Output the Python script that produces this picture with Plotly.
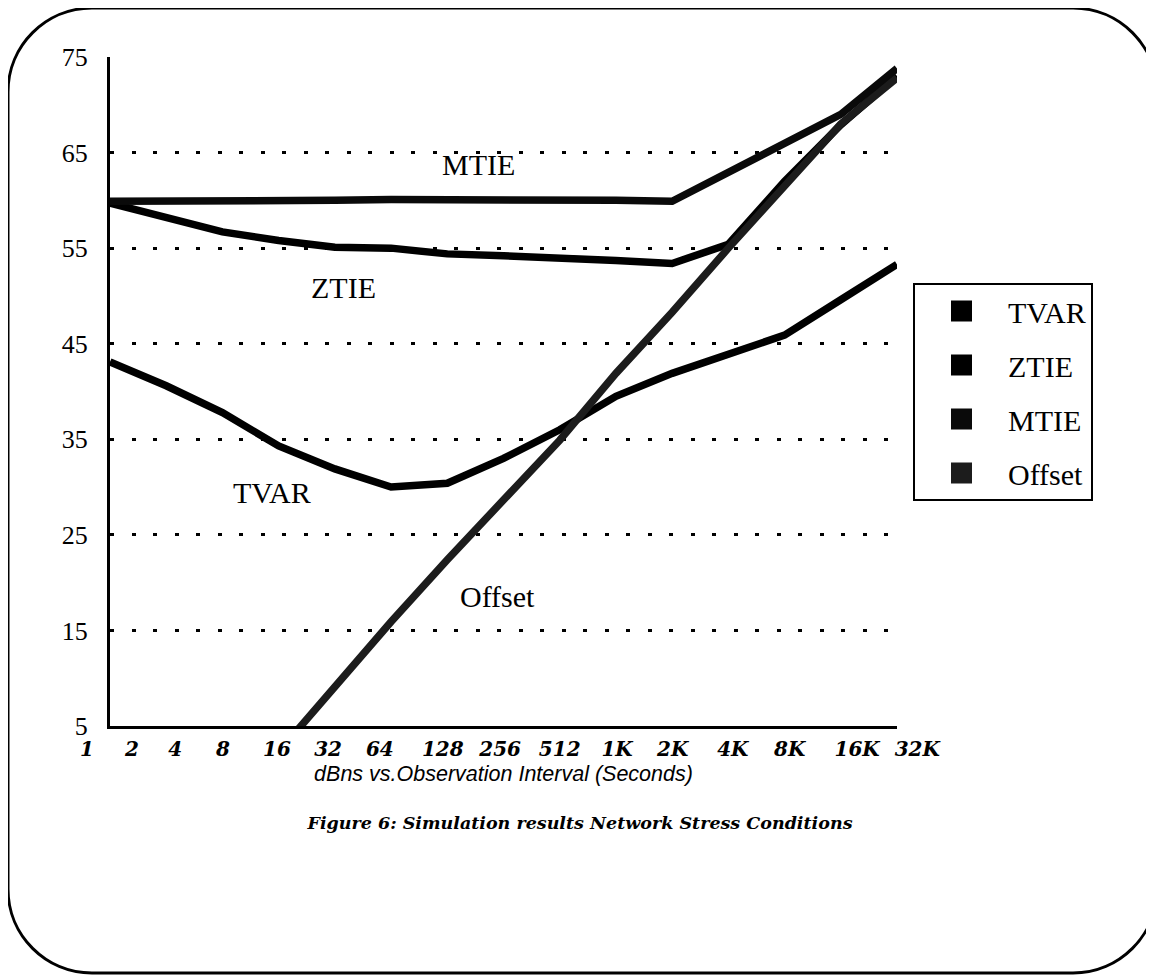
import plotly.graph_objects as go

# ---------------- data ----------------
point_index = list(range(15))          # observation-interval steps along the x axis

tvar   = [43.1, 40.6, 37.8, 34.3, 31.9, 30.0, 30.4, 33.0, 36.0, 39.5, 41.9, 44.0, 45.9, 49.6, 53.3]
ztie   = [59.7, 58.2, 56.7, 55.8, 55.1, 55.0, 54.4, 54.2, 54.0, 53.7, 53.4, 55.4, 62.0, 67.9, 73.0]
mtie   = [59.9, 59.9, 60.0, 60.0, 60.0, 60.1, 60.1, 60.0, 60.0, 60.0, 59.9, 62.9, 65.9, 69.0, 73.8]
offset_idx = point_index[3:]
offset = [2.3, 9.2, 15.9, 22.4, 28.7, 34.9, 41.9, 48.3, 55.0, 61.6, 68.0, 72.8]

tick_labels = ["1", "2", "4", "8", "16", "32", "64", "128", "256", "512",
               "1K", "2K", "4K", "8K", "16K", "32K"]
tick_pos = [-0.41, 0.39, 1.16, 2.01, 2.97, 3.88, 4.80, 5.92, 6.94, 8.00,
            9.02, 10.01, 11.08, 12.09, 13.29, 14.36]

y_ticks = [5, 15, 25, 35, 45, 55, 65, 75]

series_names = ["TVAR", "ZTIE", "MTIE", "Offset"]
series_colors = ["#000000", "#000000", "#0a0a0a", "#1c1c1c"]

curve_labels = ["MTIE", "ZTIE", "TVAR", "Offset"]
curve_label_x = [6.56, 4.16, 2.88, 6.90]
curve_label_y = [63.7, 50.9, 29.4, 18.6]

# ---------------- layout helpers ----------------
OFF = 8                      # page body margin of the html page
W, H = 1154 - OFF, 975 - OFF
def PX(p):
    return (p - OFF) / W
def PY(p):
    return 1 - (p - OFF) / H

plot_l, plot_r, plot_t, plot_b = 110, 897, 57, 726
unit = (plot_r - plot_l) / 14.0

fig = go.Figure()

line_w = 7.5
fig.add_trace(go.Scatter(x=point_index, y=tvar, mode="lines", showlegend=False,
                         line=dict(color=series_colors[0], width=line_w)))
fig.add_trace(go.Scatter(x=point_index, y=ztie, mode="lines", showlegend=False,
                         line=dict(color=series_colors[1], width=line_w)))
fig.add_trace(go.Scatter(x=point_index, y=mtie, mode="lines", showlegend=False,
                         line=dict(color=series_colors[2], width=line_w)))
fig.add_trace(go.Scatter(x=offset_idx, y=offset, mode="lines", showlegend=False,
                         line=dict(color=series_colors[3], width=line_w)))

# legend entries (square swatches)
for name, col in zip(series_names, series_colors):
    fig.add_trace(go.Scatter(x=[None], y=[None], mode="markers", name=name,
                             legendgroup=name,
                             marker=dict(symbol="square", size=16, color=col,
                                         line=dict(color=col, width=5))))

# helper trace for the tick-label row axis
fig.add_trace(go.Scatter(x=[None], y=[None], xaxis="x2", yaxis="y2",
                         showlegend=False, hoverinfo="skip"))

for txt, xx, yy in zip(curve_labels, curve_label_x, curve_label_y):
    fig.add_annotation(x=xx, y=yy, xref="x", yref="y", text=txt, showarrow=False,
                       font=dict(family="Liberation Serif", size=30, color="black"))

# rounded outer frame
L, T, R, B, r = 8, 8, 1157, 973, 84
k = 0.5523 * r
def pt(x, y):
    return f"{PX(x):.5f},{PY(y):.5f}"
path = (f"M{pt(L + r, T)} L{pt(R - r, T)} "
        f"C{pt(R - r + k, T)} {pt(R, T + r - k)} {pt(R, T + r)} "
        f"L{pt(R, B - r)} "
        f"C{pt(R, B - r + k)} {pt(R - r + k, B)} {pt(R - r, B)} "
        f"L{pt(L + r, B)} "
        f"C{pt(L + r - k, B)} {pt(L, B - r + k)} {pt(L, B - r)} "
        f"L{pt(L, T + r)} "
        f"C{pt(L, T + r - k)} {pt(L + r - k, T)} {pt(L + r, T)} Z")
fig.add_shape(type="path", path=path, xref="paper", yref="paper",
              line=dict(color="black", width=3), layer="below")

ydom = [PY(plot_b), PY(plot_t)]

fig.update_layout(
    template="none",
    width=W, height=H,
    margin=dict(l=0, r=0, t=0, b=0, pad=0, autoexpand=False),
    paper_bgcolor="white", plot_bgcolor="rgba(0,0,0,0)",
    showlegend=True,
    title=dict(text="Figure 6: Simulation results Network Stress Conditions",
               x=PX(580), y=PY(823), xref="paper", yref="paper",
               xanchor="center", yanchor="middle",
               font=dict(family="DejaVu Serif", size=17.5, color="black",
                         style="italic", weight="bold")),
    xaxis=dict(domain=[PX(plot_l), PX(plot_r)], range=[0, 14], automargin=False,
               showgrid=False, zeroline=False, showline=True, linecolor="black",
               linewidth=3, ticks="", showticklabels=False,
               title=dict(text="dBns vs.Observation Interval (Seconds)", standoff=38,
                          font=dict(family="Liberation Sans", size=21.5, color="black",
                                    style="italic"))),
    yaxis=dict(domain=ydom, range=[5, 75], tickvals=y_ticks, automargin=False,
               showgrid=True, gridcolor="black", gridwidth=3, griddash="4px,17.5px",
               zeroline=False, showline=True, linecolor="black", linewidth=3,
               ticks="", ticklabelstandoff=14,
               tickfont=dict(family="Liberation Serif", size=26, color="black")),
    xaxis2=dict(domain=[0, 1], anchor="y2", automargin=False,
                range=[(OFF - plot_l) / unit, (1154 - plot_l) / unit],
                tickvals=tick_pos, ticktext=tick_labels,
                showgrid=False, zeroline=False, showline=False, ticks="",
                ticklabelstandoff=9,
                tickfont=dict(family="DejaVu Serif", size=20, color="black",
                              style="italic", weight="bold")),
    yaxis2=dict(domain=ydom, range=[5, 75], anchor="x2", visible=False,
                automargin=False),
    legend=dict(x=PX(913), y=PY(283), xanchor="left", yanchor="top",
                bordercolor="black", borderwidth=2, bgcolor="white",
                font=dict(family="Liberation Serif", size=30, color="black"),
                tracegroupgap=12, itemwidth=83),
)

fig.write_html("out.html")
